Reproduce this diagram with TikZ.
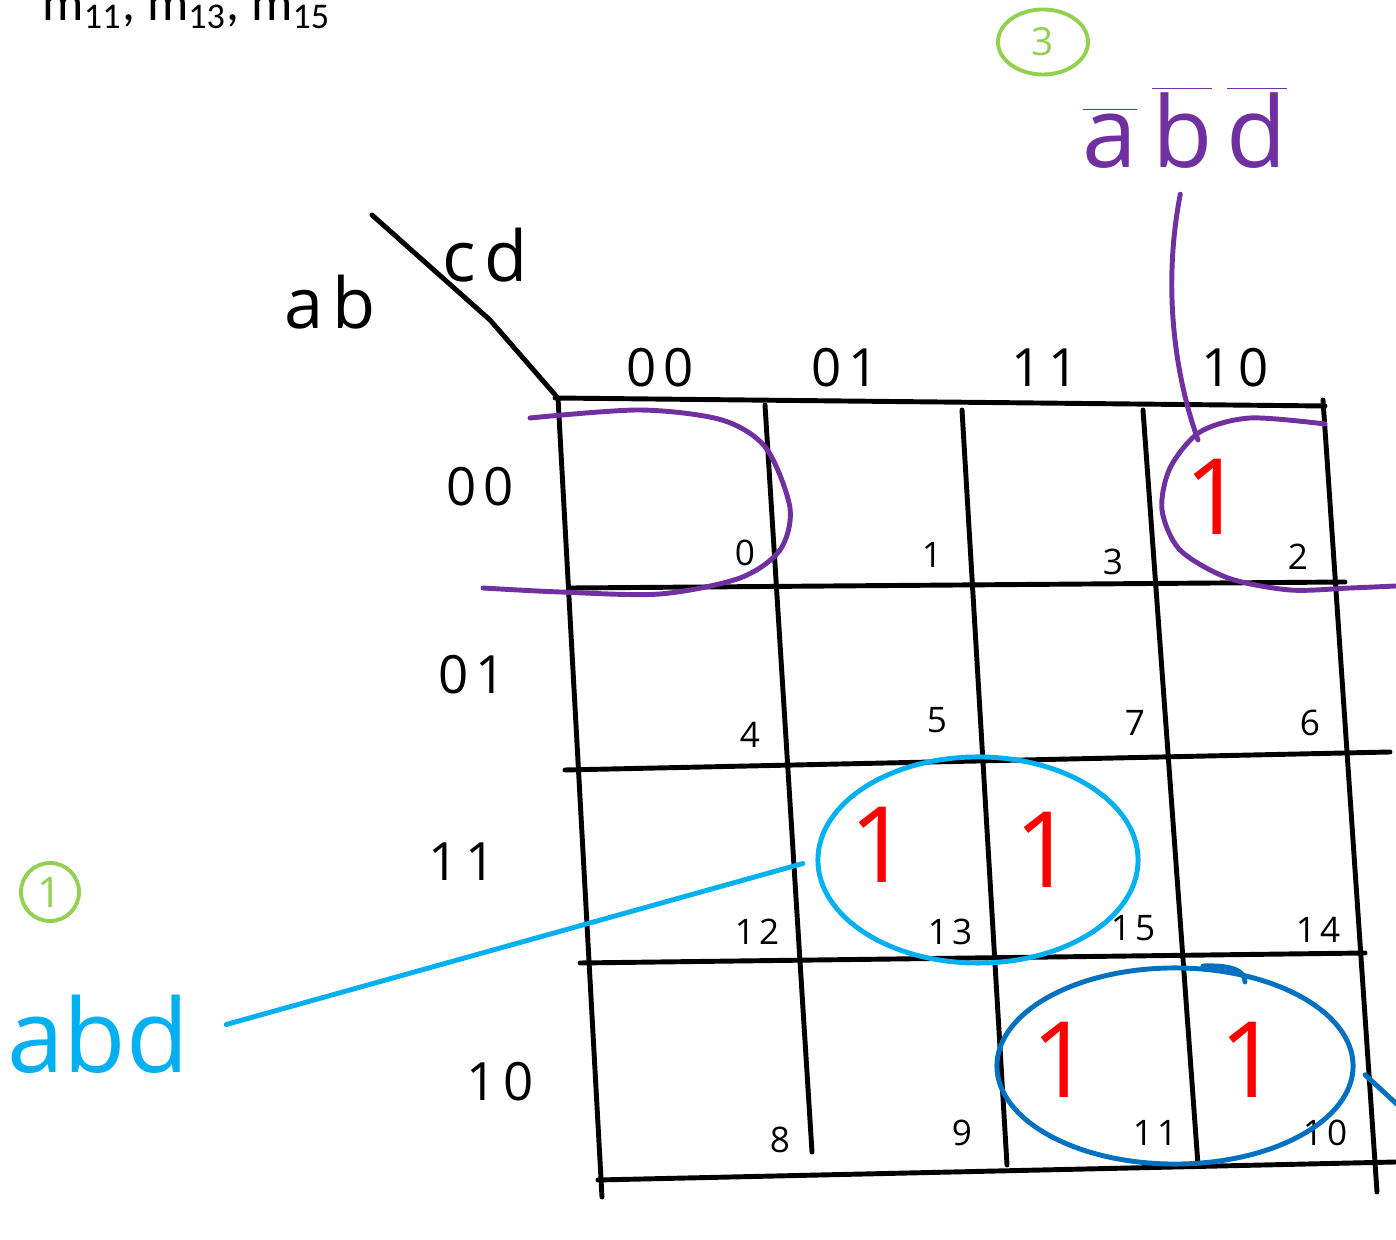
\documentclass[tikz,border=0pt]{standalone}
\usepackage{fontspec}
\usepackage{tikz}
\usetikzlibrary{shapes.geometric,positioning}
\newfontfamily\hand[LetterSpace=12]{Open Sans}
\newfontfamily\handtight{Open Sans}
\newfontfamily\calib{Carlito}
\definecolor{kpurple}{HTML}{7030A0}
\definecolor{klight}{HTML}{00B0F0}
\definecolor{kdark}{HTML}{0070C0}
\definecolor{kgreen}{HTML}{92D050}
\definecolor{kred}{HTML}{FF0000}

\begin{document}
\begin{tikzpicture}[
  x=0.01cm, y=-0.01cm,
  grid/.style={line width=1.4pt, line cap=round},
  hdr/.style={font=\hand\fontsize{15}{18}\selectfont, inner sep=0pt},
  idx/.style={font=\hand\fontsize{10}{12}\selectfont, inner sep=0pt},
  one/.style={text=kred, font=\handtight\fontsize{30}{34}\selectfont, inner sep=0pt},
  ring/.style={ellipse, line width=1.4pt, inner sep=0pt},
  tag/.style={draw=kgreen, text=kgreen, line width=1.1pt, inner sep=0pt},
  pen/.style={line width=1.4pt, line cap=round}
]
\useasboundingbox (0,0) rectangle (1396,1240);

% minterm list, cut at the top
\node[anchor=base west, font=\calib\fontsize{14.7}{18}\selectfont, inner sep=0pt] (mins) at (42,21)
  {m\textsubscript{11}, m\textsubscript{13}, m\textsubscript{15}};

% grid
\draw[grid] (372,215) -- (490,320) -- (557,397);
\draw[grid] (555,398) -- (1325,406);
\draw[grid] (572,588) -- (1345,582);
\draw[grid] (565,770) -- (1390,752);
\draw[grid] (580,963) -- (1365,953);
\draw[grid] (598,1180) -- (1396,1162);
\draw[grid] (558,398) -- (602,1197);
\draw[grid] (765,405) -- (812,1152);
\draw[grid] (962,410) -- (1007,1165);
\draw[grid] (1143,410) -- (1198,1165);
\draw[grid] (1323,400) -- (1377,1192);

% axis labels
\node[hdr, font=\hand\fontsize{20}{24}\selectfont] (cd) at (485,255) {cd};
\node[hdr, font=\hand\fontsize{20}{24}\selectfont] (ab) at (330,302) {ab};
\node[hdr] (c00) at (660,368) {00};
\node[hdr] (c01) at (845,368) {01};
\node[hdr] (c11) at (1045,368) {11};
\node[hdr] (c10) at (1235,368) {10};
\node[hdr] (r00) at (480,487) {00};
\node[hdr] (r01) at (472,675) {01};
\node[hdr] (r11) at (462,862) {11};
\node[hdr] (r10) at (500,1082) {10};

% cell numbers
\node[idx] (m0) at (745,553) {0};
\node[idx] (m1) at (932,555) {1};
\node[idx] (m3) at (1113,562) {3};
\node[idx] (m2) at (1298,557) {2};
\node[idx] (m4) at (750,735) {4};
\node[idx] (m5) at (937,720) {5};
\node[idx] (m7) at (1135,723) {7};
\node[idx] (m6) at (1310,723) {6};
\node[idx] (m12) at (757,932) {12};
\node[idx] (m13) at (950,932) {13};
\node[idx] (m15) at (1133,928) {15};
\node[idx] (m14) at (1318,930) {14};
\node[idx] (m8) at (780,1140) {8};
\node[idx] (m9) at (962,1133) {9};
\node[idx] (m11) at (1155,1133) {11};
\node[idx] (m10) at (1325,1133) {10};

% ones
\node[one] (one2) at (1215,497) {1};
\node[one] (one13) at (880,845) {1};
\node[one] (one15) at (1045,850) {1};
\node[one] (one11) at (1062,1060) {1};
\node[one] (one10) at (1250,1060) {1};

% (1) abd
\node[ring, draw=klight, minimum width=3.2cm, minimum height=2.06cm] (grpA) at (978,860) {};
\node[tag, circle, minimum size=0.58cm, font=\hand\fontsize{12}{14}\selectfont] (tagA) at (50,892) {1};
\node[anchor=base, inner sep=0pt, text=klight, font=\handtight\fontsize{29}{34}\selectfont] (lblA) at (98,1073) {abd};
\draw[pen, klight, shorten <=0.38cm, shorten >=0.13cm] (lblA.east) -- (grpA.west);

% second group, label off the page
\node[ring, draw=kdark, minimum width=3.56cm, minimum height=1.96cm] (grpB) at (1175,1066) {};
\draw[pen, kdark] (1203,966) .. controls (1230,965) and (1245,970) .. (1245,982);
\coordinate (offB) at (1400,1107);
\draw[pen, kdark, shorten <=0.13cm] (grpB.east) -- (offB);

% (3) not a, not b, not d
\draw[pen, kpurple] plot[smooth] coordinates {(530,418) (640,410) (722,420) (766,448) (790,508) (780,550) (740,578) (660,594) (560,592) (483,588)};
\draw[pen, kpurple] plot[smooth] coordinates {(1325,424) (1250,418) (1200,432) (1170,468) (1162,510) (1180,550) (1228,578) (1290,590) (1350,588) (1396,586)};
\node[tag, ellipse, minimum width=0.9cm, minimum height=0.65cm, font=\hand\fontsize{11}{13}\selectfont] (tagC) at (1043,42) {3};
\node[anchor=base, inner sep=0pt, text=kpurple, font=\hand\fontsize{28}{32}\selectfont] (lblC) at (1185,168)
  {$\overline{\hbox{a}}\,\overline{\hbox{b}}\,\overline{\hbox{d}}$};
\coordinate (pC) at (1198,440);
\draw[pen, kpurple, shorten <=0.25cm] (lblC.south) .. controls (1160,300) and (1180,390) .. (pC);

\end{tikzpicture}
\end{document}
